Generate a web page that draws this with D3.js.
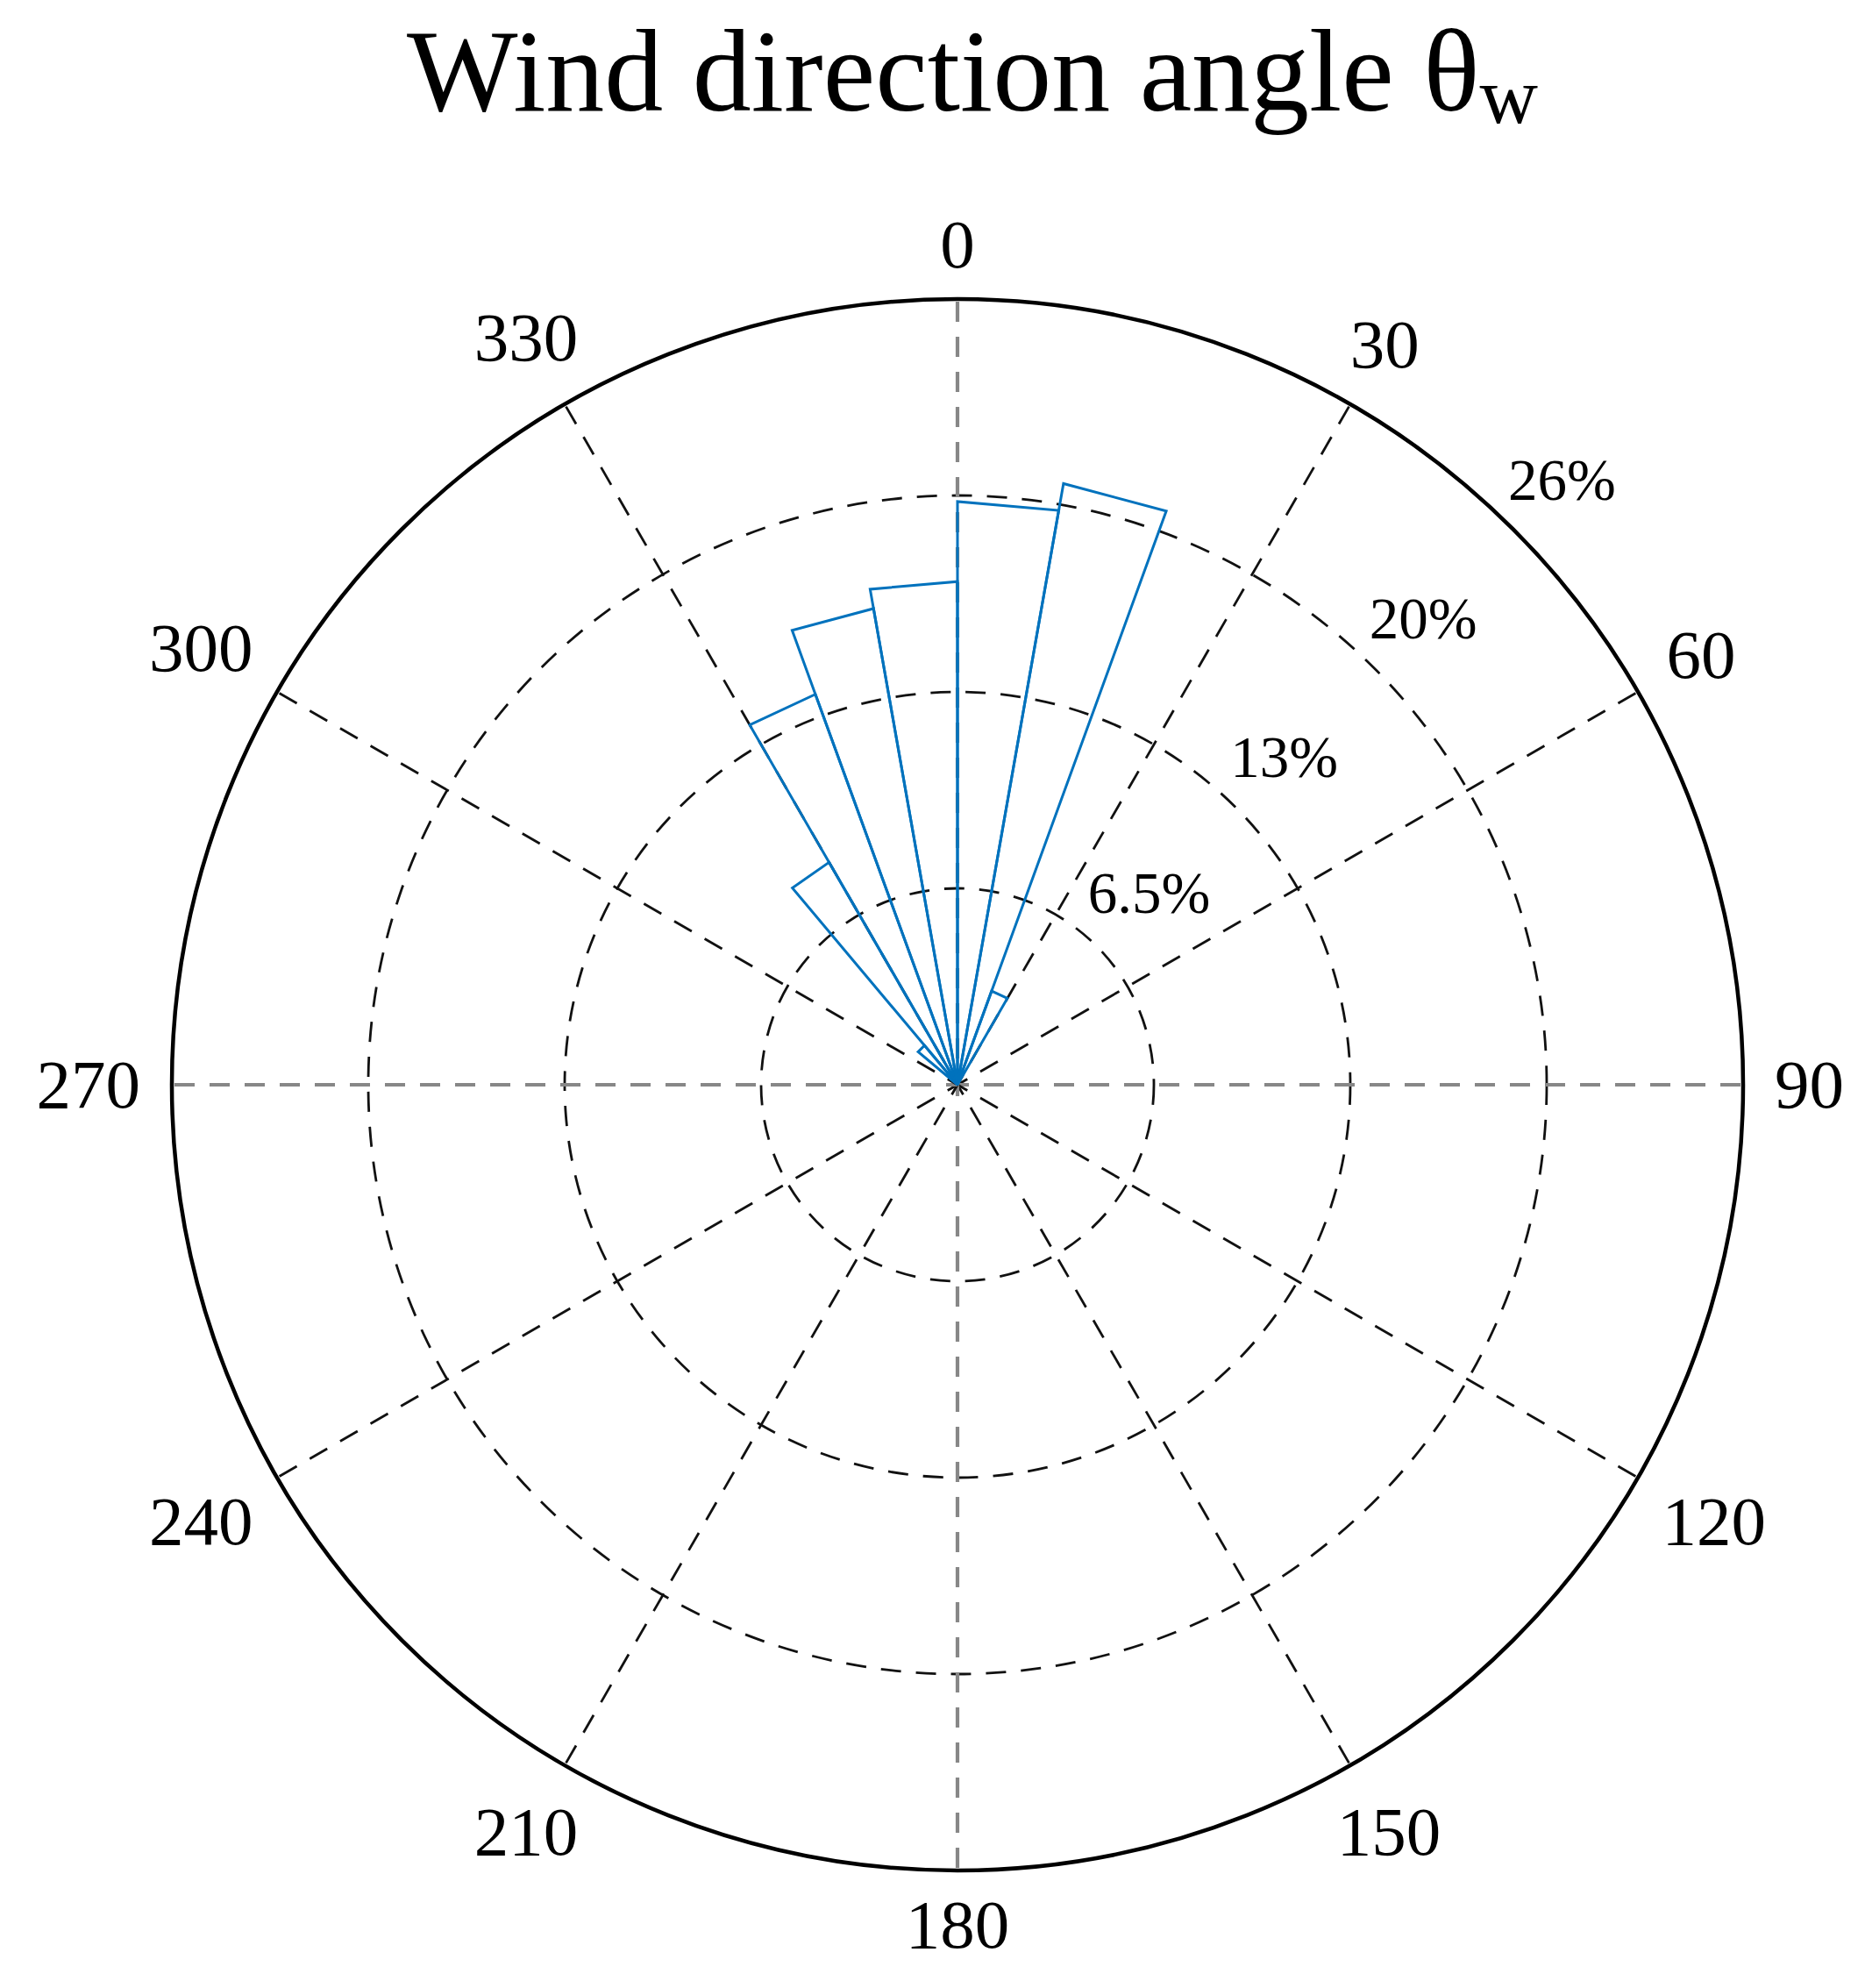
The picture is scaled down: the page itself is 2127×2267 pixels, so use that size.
<!DOCTYPE html>
<html>
<head>
<meta charset="utf-8">
<script src="https://cdn.jsdelivr.net/npm/d3@7/dist/d3.min.js"></script>
<style>
  html, body { margin: 0; padding: 0; background: #fff; }
  svg { display: block; }
  text { font-family: "Liberation Serif", "DejaVu Serif", serif; fill: #000; }
</style>
</head>
<body>
<svg id="chart" width="2127" height="2267"></svg>
<script>
// ---- data ----
const binStarts = [310, 320, 330, 340, 350, 0, 10, 20];   // degrees, bin start
const binWidth = 10;                                      // degrees
const frequencies = [1.7, 8.5, 13.75, 16.0, 16.65, 19.3, 20.2, 3.3]; // percent
const angleTicks = [0, 30, 60, 90, 120, 150, 180, 210, 240, 270, 300, 330];
const radialTicks = [6.5, 13, 19.5, 26];
const radialTickLabels = ["6.5%", "13%", "20%", "26%"];
const radialMax = 26;
const titleMain = "Wind direction angle θ";
const titleSub = "w";

// ---- layout ----
const W = 2127, H = 2267;
const cx = 1092, cy = 1237, R = 896;
const svg = d3.select("#chart");
svg.append("rect").attr("width", W).attr("height", H).attr("fill", "#fff");

const rScale = d3.scaleLinear().domain([0, radialMax]).range([0, R]);
const aScale = d3.scaleLinear().domain([0, 360]).range([0, 2 * Math.PI]);

const g = svg.append("g").attr("transform", `translate(${cx},${cy})`);

// rings (dashed) except outer
g.selectAll("circle.ring")
  .data(radialTicks.slice(0, -1))
  .join("circle")
  .attr("class", "ring")
  .attr("r", d => rScale(d))
  .attr("fill", "none")
  .attr("stroke", "#111")
  .attr("stroke-width", 2.8)
  .attr("stroke-dasharray", "23,17");

// spokes
const isMain = d => d % 90 === 0;
g.selectAll("line.spoke")
  .data(angleTicks)
  .join("line")
  .attr("class", "spoke")
  .attr("x1", 0).attr("y1", 0)
  .attr("x2", d => rScale(radialMax) * Math.sin(aScale(d)))
  .attr("y2", d => -rScale(radialMax) * Math.cos(aScale(d)))
  .attr("stroke", d => isMain(d) ? "#878787" : "#111")
  .attr("stroke-width", d => isMain(d) ? 4.2 : 2.8)
  .attr("stroke-dasharray", "23,17")
  .attr("stroke-dashoffset", 10);

// outer circle
g.append("circle")
  .attr("r", rScale(radialMax))
  .attr("fill", "none")
  .attr("stroke", "#000")
  .attr("stroke-width", 4.5);

// bars
g.selectAll("path.bar")
  .data(binStarts.map((s, i) => ({ start: s, value: frequencies[i] })))
  .join("path")
  .attr("class", "bar")
  .attr("d", d => {
    const a0 = aScale(d.start), a1 = aScale(d.start + binWidth), r = rScale(d.value);
    const p = d3.path();
    p.moveTo(0, 0);
    p.lineTo(r * Math.sin(a0), -r * Math.cos(a0));
    p.lineTo(r * Math.sin(a1), -r * Math.cos(a1));
    p.closePath();
    return p.toString();
  })
  .attr("fill", "none")
  .attr("stroke", "#0072BD")
  .attr("stroke-width", 3)
  .attr("stroke-linejoin", "miter");

// angle tick labels
const tickFont = 79;
const tl = g.selectAll("text.atick")
  .data(angleTicks)
  .join("text")
  .attr("class", "atick")
  .attr("font-size", tickFont)
  .attr("text-anchor", "middle")
  .text(d => d);
tl.each(function(d) {
  const w = this.getComputedTextLength();
  const h = 0.66 * tickFont;
  const a = aScale(d);
  const s = Math.sin(a), c = Math.cos(a);
  const rr = R + 36 + Math.abs(s) * w / 2 + Math.abs(c) * h / 2;
  d3.select(this)
    .attr("x", rr * s)
    .attr("y", -rr * c + h / 2);
});

// radial tick labels at 45°
const rFont = 67;
const rl = g.selectAll("text.rtick")
  .data(radialTicks.map((v, i) => ({ v, label: radialTickLabels[i] })))
  .join("text")
  .attr("class", "rtick")
  .attr("font-size", rFont)
  .attr("text-anchor", "middle")
  .text(d => d.label);
rl.each(function(d) {
  const w = this.getComputedTextLength();
  const h = 0.66 * rFont;
  const a = aScale(45);
  const s = Math.sin(a), c = Math.cos(a);
  const rr = rScale(d.v) + 20 + s * w / 2 + c * h / 2;
  d3.select(this)
    .attr("x", rr * s)
    .attr("y", -rr * c + h / 2);
});

// title
const title = svg.append("text")
  .attr("x", 1109)
  .attr("y", 126)
  .attr("text-anchor", "middle")
  .attr("font-size", 134);
title.append("tspan").text(titleMain);
title.append("tspan").attr("font-size", 92).attr("dy", 14).text(titleSub);
</script>
</body>
</html>
